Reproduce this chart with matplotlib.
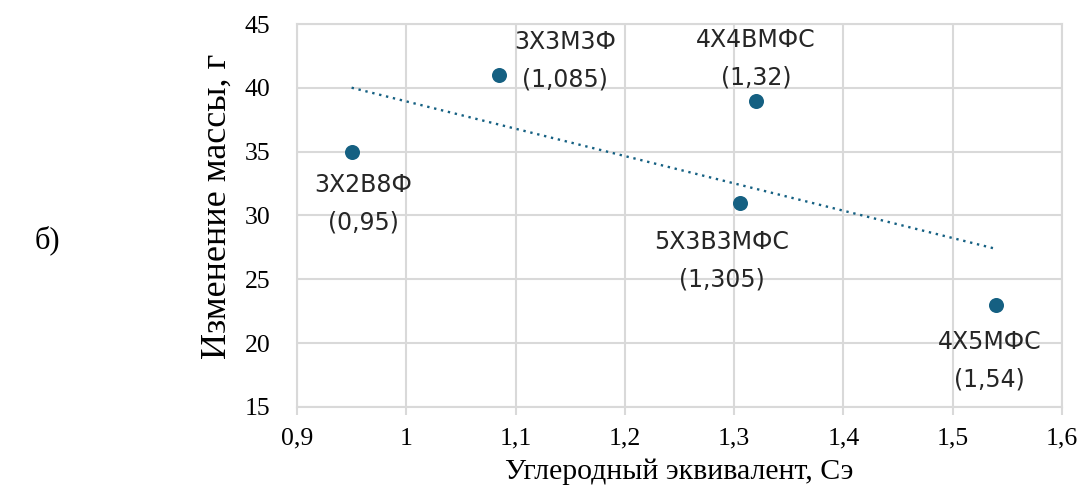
import numpy as np
import matplotlib
matplotlib.use('Agg')
from matplotlib import pyplot as plt

# steel grades, carbon equivalent and mass change
grades = ["3Х2В8Ф", "3Х3М3Ф", "4Х4ВМФС", "5Х3В3МФС", "4Х5МФС"]
ce = [0.95, 1.085, 1.32, 1.305, 1.54]
mass_change = [35, 41, 39, 31, 23]

x_ticks = [0.9, 1.0, 1.1, 1.2, 1.3, 1.4, 1.5, 1.6]
x_tick_labels = ["0,9", "1", "1,1", "1,2", "1,3", "1,4", "1,5", "1,6"]
y_ticks = [15, 20, 25, 30, 35, 40, 45]

# label offsets from each point, pixels
label_offsets = [(12, -52), (66, 14), (0, 42), (-18, -58), (-7, -56)]

color = "#156082"
grid_color = "#D9D9D9"
serif = "Liberation Serif"
sans = "DejaVu Sans"

fig = plt.figure(figsize=(10.83, 4.99), dpi=100)
ax = fig.add_axes([0.2742, 0.1844, 0.7064, 0.7675])

ax.scatter(ce, mass_change, s=117, color=color, zorder=3, linewidths=0)

# linear trend line
k, b = np.polyfit(ce, mass_change, 1)
xt = np.array([min(ce), max(ce)])
ax.plot(xt, k * xt + b, color=color, lw=1.7, linestyle=(0, (1, 2.0)), zorder=2)

for name, x, y, off in zip(grades, ce, mass_change, label_offsets):
    txt = "{}\n({})".format(name, ("%g" % x).replace(".", ","))
    ax.annotate(txt, (x, y), xytext=off, textcoords='offset pixels',
                ha='center', va='center', fontsize=17, family=sans,
                color="#262626", linespacing=1.7)

ax.set_xlim(0.9, 1.6)
ax.set_ylim(15, 45)
ax.set_xticks(x_ticks)
ax.set_xticklabels(x_tick_labels)
ax.set_yticks(y_ticks)
ax.grid(True, color=grid_color, lw=1.5)
ax.set_axisbelow(True)
for sp in ax.spines.values():
    sp.set_color(grid_color)
    sp.set_linewidth(1.5)

ax.tick_params(axis='x', length=6, width=1.5, color=grid_color, pad=9,
               labelsize=18.5)
ax.tick_params(axis='y', length=0, pad=19, labelsize=18.5)
for lab in ax.get_xticklabels() + ax.get_yticklabels():
    lab.set_family(serif)

ax.set_xlabel("Углеродный эквивалент, Сэ", family=serif, fontsize=21.5, labelpad=6)
ax.set_ylabel("Изменение массы, г", family=serif, fontsize=26)
ax.yaxis.set_label_coords(-0.082, 0.525)

fig.text(0.032, 0.519, "б)", family=serif, fontsize=22, va='center')

fig.savefig("out.png", dpi=100)
